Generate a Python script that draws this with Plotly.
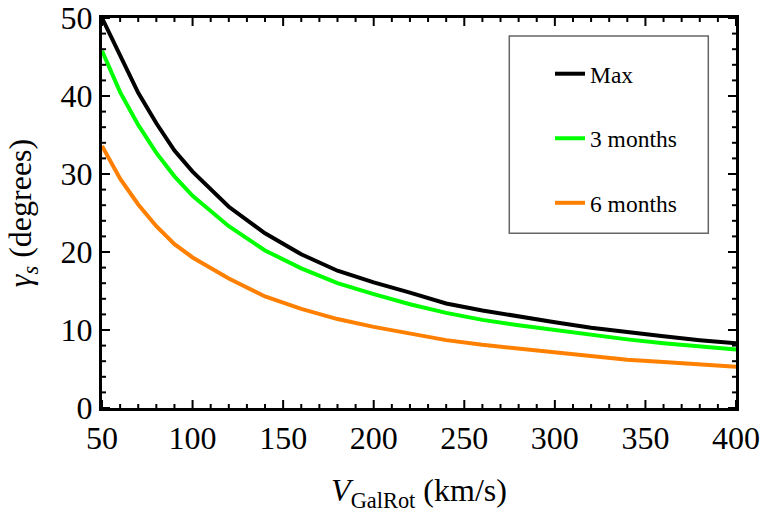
import plotly.graph_objects as go

v = [50, 60, 70, 80, 90, 100, 120, 140, 160, 180, 200, 220, 240, 260, 280, 300, 320, 340, 360, 380, 400]
gamma_max = [50.0, 45.2, 40.4, 36.5, 33.0, 30.3, 25.8, 22.4, 19.7, 17.6, 16.1, 14.8, 13.4, 12.5, 11.7, 11.0, 10.3, 9.7, 9.2, 8.7, 8.3]
gamma_3m = [45.8, 40.5, 36.3, 32.7, 29.7, 27.2, 23.3, 20.2, 17.9, 16.0, 14.6, 13.3, 12.2, 11.3, 10.6, 10.0, 9.3, 8.8, 8.3, 7.9, 7.5]
gamma_6m = [33.6, 29.4, 26.1, 23.3, 21.0, 19.3, 16.6, 14.3, 12.7, 11.4, 10.4, 9.5, 8.7, 8.1, 7.6, 7.1, 6.6, 6.2, 5.9, 5.6, 5.3]
x_ticks = [50, 100, 150, 200, 250, 300, 350, 400]
y_ticks = [0, 10, 20, 30, 40, 50]
x_minor = [t for t in range(50, 401, 10) if t not in x_ticks]
y_minor = [t for t in range(0, 51, 2) if t not in y_ticks]

series = [("Max", gamma_max, "black"),
          ("3 months", gamma_3m, "rgb(0,255,0)"),
          ("6 months", gamma_6m, "rgb(255,128,0)")]

FONT = "Liberation Serif"
XR = [50, 400]
YR = [0, 50]
MAJ, MIN = 8, 4

fig = go.Figure()
for i, (name, ys, col) in enumerate(series):
    fig.add_trace(go.Scatter(x=v, y=ys, mode="lines", name=name, legendgroup=f"g{i}",
                             line=dict(color=col, width=4), cliponaxis=False))

tickfont = dict(family=FONT, size=32, color="black")

def ax(**kw):
    d = dict(showline=True, linecolor="black", linewidth=3, mirror=True,
             ticks="", showgrid=False, zeroline=False, tickfont=tickfont, tickmode="array")
    d.update(kw)
    return d

fig.update_layout(
    xaxis=ax(range=XR, tickvals=x_ticks, ticktext=[str(t) for t in x_ticks],
             title=dict(text="<i>V</i><sub>GalRot</sub> (km/s)", font=dict(family=FONT, size=32, color="black"), standoff=24)),
    yaxis=ax(range=YR, tickvals=y_ticks, ticktext=[str(t) for t in y_ticks],
             title=dict(text="<i>γ<sub>s</sub></i> (degrees)", font=dict(family=FONT, size=32, color="black"), standoff=20)),
)

# inward tick marks on all four sides, placed through the axis scales
tick_line = dict(color="black", width=2)
for vals, L in ((x_ticks, MAJ), (x_minor, MIN)):
    for t in vals:
        fig.add_shape(type="line", xref="x", yref="paper", ysizemode="pixel", yanchor=0,
                      x0=t, x1=t, y0=0, y1=L, line=tick_line, layer="above")
        fig.add_shape(type="line", xref="x", yref="paper", ysizemode="pixel", yanchor=1,
                      x0=t, x1=t, y0=-L, y1=0, line=tick_line, layer="above")
for vals, L in ((y_ticks, MAJ), (y_minor, MIN)):
    for t in vals:
        fig.add_shape(type="line", xref="paper", yref="y", xsizemode="pixel", xanchor=0,
                      y0=t, y1=t, x0=0, x1=L, line=tick_line, layer="above")
        fig.add_shape(type="line", xref="paper", yref="y", xsizemode="pixel", xanchor=1,
                      y0=t, y1=t, x0=-L, x1=0, line=tick_line, layer="above")

fig.add_shape(type="rect", xref="paper", yref="paper", x0=0.6424, x1=0.9563, y0=0.4483, y1=0.954,
              line=dict(color="#666666", width=1.5), fillcolor="rgba(0,0,0,0)", layer="below")

fig.update_layout(
    width=764, height=513,
    margin=dict(l=102, r=28, t=18, b=105, autoexpand=False),
    plot_bgcolor="white", paper_bgcolor="white",
    showlegend=True,
    legend=dict(x=0.7066, y=0.913, xanchor="left", yanchor="top",
                bgcolor="rgba(0,0,0,0)", borderwidth=0,
                tracegroupgap=31, traceorder="grouped",
                font=dict(family=FONT, size=23.5, color="black")),
    font=dict(family=FONT),
)

fig.write_html("out.html")
